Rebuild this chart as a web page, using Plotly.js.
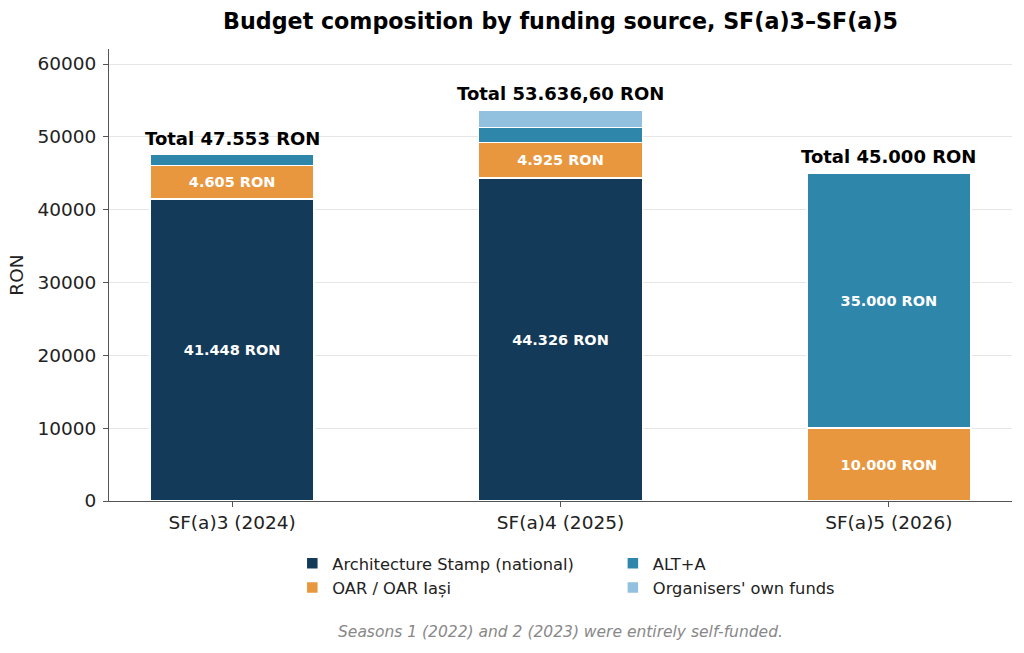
<!DOCTYPE html>
<html>
<head>
<meta charset="utf-8">
<script src="https://cdn.plot.ly/plotly-3.0.1.min.js"></script>
<style>
  html, body { margin: 0; padding: 0; background: #fff; }
  #chart { width: 1024px; height: 653px; }
</style>
</head>
<body>
<div id="chart"></div>
<script>
"use strict";

// Data
const seasons = ["SF(a)3 (2024)", "SF(a)4 (2025)", "SF(a)5 (2026)"];
const archStamp = [41448, 44326, 0];
const oar = [4605, 4925, 10000];
const altA = [1500, 2000, 35000];
const ownFunds = [0, 2385.6, 0];
const yTicks = [0, 10000, 20000, 30000, 40000, 50000, 60000];

const FONT = "'DejaVu Sans', Verdana, sans-serif";
const COLORS = {
  arch: "#143a5a",
  oar: "#e8973f",
  alt: "#2e86ab",
  own: "#92c0df",
};

// Romanian-style number formatting: 41.448 / 53.636,60
function fmt(v) {
  const isInt = Math.abs(v - Math.round(v)) < 1e-9;
  const parts = (isInt ? Math.round(v).toString() : v.toFixed(2)).split(".");
  const intPart = parts[0].replace(/\B(?=(\d{3})+(?!\d))/g, ".");
  return parts.length > 1 ? intPart + "," + parts[1] : intPart;
}

function segLabels(vals) {
  return vals.map((v) => (v >= 3000 ? fmt(v) + " RON" : ""));
}

function seg(name, vals, color, legend) {
  return {
    type: "bar",
    name: name,
    x: seasons,
    y: vals,
    text: segLabels(vals),
    textposition: "inside",
    insidetextanchor: "middle",
    textangle: 0,
    constraintext: "none",
    textfont: { family: FONT, size: 14.5, color: "#ffffff", weight: "bold" },
    marker: { color: color, line: { color: "#ffffff", width: 1.5 } },
    legend: legend,
    hovertemplate: "<b>" + name + "</b><br>%{x}: %{y}<extra></extra>",
  };
}

const traces = [
  seg("Architecture Stamp (national)", archStamp, COLORS.arch, "legend"),
  seg("OAR / OAR Iași", oar, COLORS.oar, "legend"),
  seg("ALT+A", altA, COLORS.alt, "legend2"),
  seg("Organisers' own funds", ownFunds, COLORS.own, "legend2"),
];

const totals = seasons.map(
  (_, i) => archStamp[i] + oar[i] + altA[i] + ownFunds[i],
);

const annotations = totals.map((t, i) => ({
  x: seasons[i],
  y: t,
  xref: "x",
  yref: "y",
  text: "<b>Total " + fmt(t) + " RON</b>",
  showarrow: false,
  yanchor: "bottom",
  yshift: 4,
  font: { family: FONT, size: 18, color: "#000" },
}));

annotations.push({
  x: 0.5,
  y: -0.29,
  xref: "paper",
  yref: "paper",
  text: "<i>Seasons 1 (2022) and 2 (2023) were entirely self-funded.</i>",
  showarrow: false,
  yanchor: "middle",
  font: { family: FONT, size: 15.5, color: "#888888" },
});

const legendBase = {
  orientation: "v",
  traceorder: "normal",
  yref: "paper",
  y: -0.1,
  yanchor: "top",
  xanchor: "left",
  font: { family: FONT, size: 16.3, color: "#222" },
  bgcolor: "rgba(0,0,0,0)",
  tracegroupgap: 0,
  itemwidth: 30,
};

const layout = {
  width: 1024,
  height: 653,
  paper_bgcolor: "#ffffff",
  plot_bgcolor: "#ffffff",
  font: { family: FONT, size: 18, color: "#222" },
  margin: { t: 49, r: 12, b: 152, l: 109 },
  barmode: "stack",
  bargap: 0.5,
  title: {
    text: "<b>Budget composition by funding source, SF(a)3–SF(a)5</b>",
    x: 0.5,
    xref: "paper",
    y: 1 - 21 / 653,
    yanchor: "middle",
    font: { family: FONT, size: 22.2, color: "#000" },
  },
  xaxis: {
    type: "category",
    range: [-0.375, 2.375],
    showline: true,
    linecolor: "#555",
    linewidth: 1,
    ticks: "outside",
    ticklen: 5,
    tickcolor: "#555",
    showgrid: false,
    tickfont: { family: FONT, size: 18.5, color: "#222" },
  },
  yaxis: {
    range: [0, 62060],
    tickvals: yTicks,
    ticktext: yTicks.map(String),
    showline: true,
    linecolor: "#555",
    linewidth: 1,
    ticks: "outside",
    ticklen: 5,
    tickcolor: "#555",
    ticklabelstandoff: 3,
    gridcolor: "#e6e6e6",
    zeroline: false,
    tickfont: { family: FONT, size: 18.5, color: "#222" },
    title: { text: "RON", standoff: 8, font: { family: FONT, size: 18.5, color: "#222" } },
  },
  showlegend: true,
  legend: { ...legendBase, x: 0.203 },
  legend2: { ...legendBase, x: 0.558 },
  annotations: annotations,
};

Plotly.newPlot("chart", traces, layout, { displayModeBar: false, responsive: false });
</script>
</body>
</html>
